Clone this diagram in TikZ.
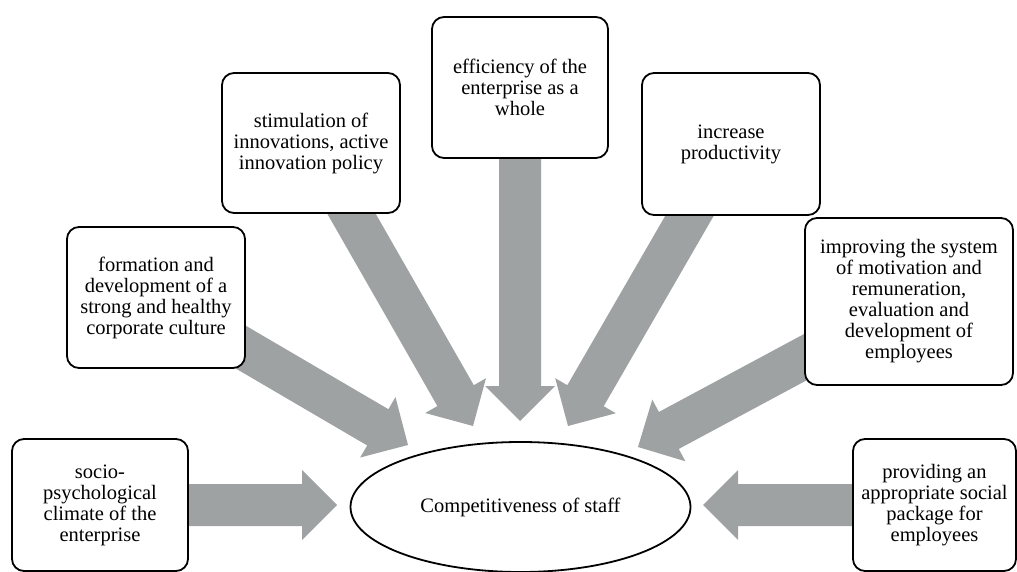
\documentclass[tikz,border=0pt]{standalone}
\usepackage{fontspec}
\setmainfont{Liberation Serif}
\newfontfamily\boxfont{Liberation Serif}
\usetikzlibrary{calc,shapes.geometric,backgrounds}
\definecolor{arrowgray}{RGB}{159,162,163}
\newcommand{\blockarrow}[2]{%
  \coordinate (hb) at ($(#2)!35pt!(#1.center)$);
  \fill[arrowgray] ($(#1.center)!21pt!90:(#2)$) -- ($(hb)!21pt!90:(#2)$) -- ($(hb)!35pt!90:(#2)$) -- (#2)
    -- ($(hb)!35pt!-90:(#2)$) -- ($(hb)!21pt!-90:(#2)$) -- ($(#1.center)!21pt!-90:(#2)$) -- cycle;
}
\tikzset{
  txt/.style={font=\boxfont\fontsize{20.5}{21}\selectfont, align=center},
  factorbox/.style={txt, draw=black, line width=1.8pt, rounded corners=12pt, fill=white,
    inner sep=0pt, minimum width=#1},
  factorbox/.default=178pt
}
\begin{document}
\begin{tikzpicture}[x=1pt,y=-1pt]
\useasboundingbox (0,0) rectangle (1017,572);
% boxes
\node[factorbox=176pt, minimum height=132pt] (b1) at (100,505) {socio-\\psychological\\climate of the\\enterprise};
\node[factorbox=178pt, minimum height=141pt] (b2) at (156,297.5) {formation and\\development of a\\strong and healthy\\corporate culture};
\node[factorbox=178pt, minimum height=140pt] (b3) at (311,143) {stimulation of\\innovations, active\\innovation policy};
\node[factorbox=176pt, minimum height=141pt] (b4) at (520,87.5) {efficiency of the\\enterprise as a\\whole};
\node[factorbox=178pt, minimum height=142pt] (b5) at (731,144) {increase\\productivity};
\node[factorbox=208pt, minimum height=167pt] (b6) at (909,301.5) {improving the system\\of motivation and\\remuneration,\\evaluation and\\development of\\employees};
\node[factorbox=163pt, minimum height=132pt] (b7) at (934.5,505) {providing an\\appropriate social\\package for\\employees};
% centre
\node[txt, draw=black, line width=1.8pt, ellipse, inner sep=0pt, minimum width=340pt, minimum height=130pt] (c) at (520.5,507) {Competitiveness of staff};
% arrow tips
\coordinate (t1) at (337,505);
\coordinate (t2) at (408,445);
\coordinate (t3) at (473,426);
\coordinate (t4) at (520,421);
\coordinate (t5) at (568,426);
\coordinate (t6) at (638,447);
\coordinate (t7) at (703,505);
\begin{scope}[on background layer]
\blockarrow{b1}{t1}
\blockarrow{b2}{t2}
\blockarrow{b3}{t3}
\blockarrow{b4}{t4}
\blockarrow{b5}{t5}
\blockarrow{b6}{t6}
\blockarrow{b7}{t7}
\end{scope}
\end{tikzpicture}
\end{document}
